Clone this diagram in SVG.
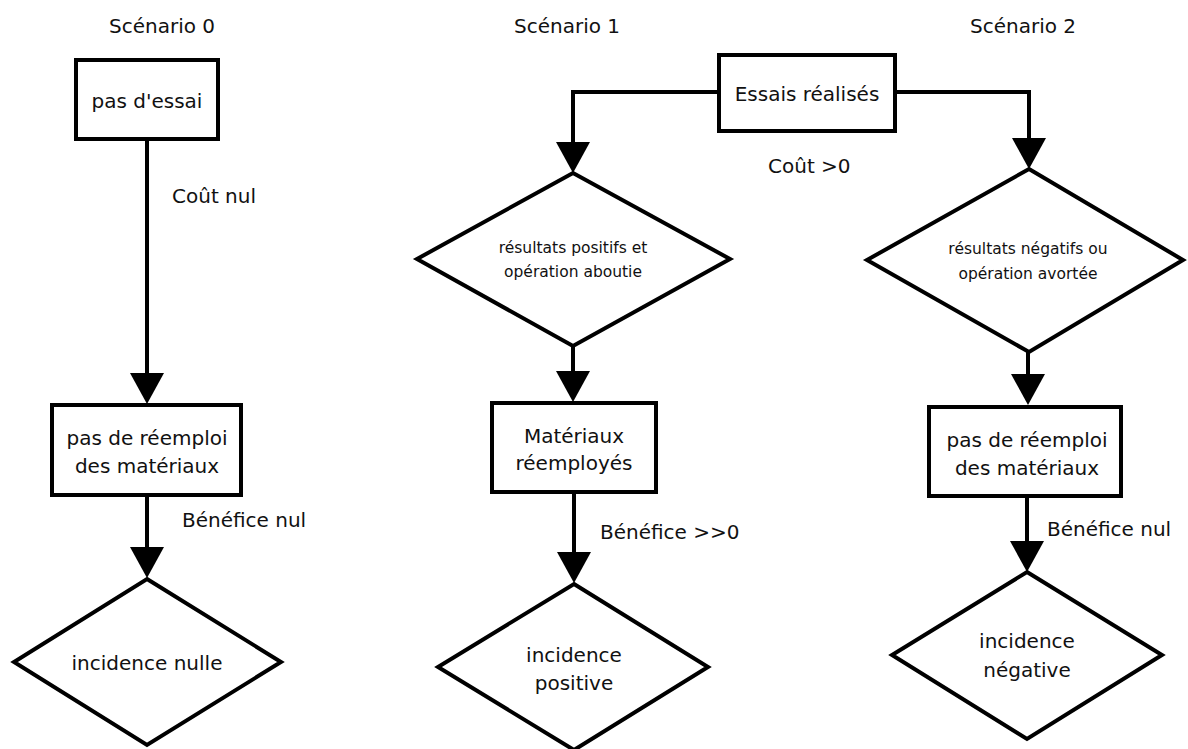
<svg xmlns="http://www.w3.org/2000/svg" width="1188" height="749" viewBox="0 0 1188 749">
<style>
.shape{fill:#fff;stroke:#000;stroke-width:4;stroke-linejoin:miter}
.conn{fill:none;stroke:#000;stroke-width:4}
text{font-family:"DejaVu Sans","Liberation Sans",sans-serif;fill:#111;font-size:20px}
.c{text-anchor:middle}
.s{font-size:15.5px}
</style>
<defs>
<marker id="arr" markerUnits="userSpaceOnUse" markerWidth="31" markerHeight="34" viewBox="0 0 31 34" refX="0" refY="17" orient="auto">
<path d="M0,0 L31,17 L0,34 z" fill="#000"/>
</marker>
</defs>
<rect width="1188" height="749" fill="#fff"/>
<g id="titles">
<text class="c" x="162" y="33">Scénario 0</text>
<text class="c" x="567" y="33">Scénario 1</text>
<text class="c" x="1023" y="33">Scénario 2</text>
</g>
<g id="connectors">
<line class="conn" x1="147" y1="139" x2="147" y2="373" marker-end="url(#arr)"/>
<line class="conn" x1="147" y1="495" x2="147" y2="547" marker-end="url(#arr)"/>
<path class="conn" d="M719,92 H573 V142" marker-end="url(#arr)"/>
<path class="conn" d="M895,92 H1029 V138" marker-end="url(#arr)"/>
<line class="conn" x1="573" y1="346" x2="573" y2="371" marker-end="url(#arr)"/>
<line class="conn" x1="574" y1="492" x2="574" y2="552" marker-end="url(#arr)"/>
<line class="conn" x1="1028" y1="352" x2="1028" y2="374" marker-end="url(#arr)"/>
<line class="conn" x1="1027" y1="496" x2="1027" y2="541" marker-end="url(#arr)"/>
</g>
<g id="labels">
<text x="172" y="203">Coût nul</text>
<text x="182" y="527">Bénéfice nul</text>
<text x="768" y="173">Coût &gt;0</text>
<text x="600" y="539">Bénéfice &gt;&gt;0</text>
<text x="1047" y="536">Bénéfice nul</text>
</g>
<g id="n0-pas-essai">
<rect class="shape" x="76" y="60" width="142" height="79"/>
<text class="c" x="147" y="108">pas d'essai</text>
</g>
<g id="n0-pas-reemploi">
<rect class="shape" x="52" y="405" width="189" height="90"/>
<text class="c" x="147" y="445">pas de réemploi</text>
<text class="c" x="147" y="473">des matériaux</text>
</g>
<g id="n0-incidence">
<polygon class="shape" points="147,579 281,662 147,745 14,662"/>
<text class="c" x="147" y="670">incidence nulle</text>
</g>
<g id="n-essais">
<rect class="shape" x="719" y="55" width="176" height="76"/>
<text class="c" x="807" y="101">Essais réalisés</text>
</g>
<g id="n1-resultats">
<polygon class="shape" points="573,173 730,259 573,346 417,259"/>
<text class="c s" x="573" y="253">résultats positifs et</text>
<text class="c s" x="573" y="277">opération aboutie</text>
</g>
<g id="n1-materiaux">
<rect class="shape" x="492" y="403" width="164" height="89"/>
<text class="c" x="574" y="443">Matériaux</text>
<text class="c" x="574" y="470">réemployés</text>
</g>
<g id="n1-incidence">
<polygon class="shape" points="574,584 708,667 574,750 438,667"/>
<text class="c" x="574" y="662">incidence</text>
<text class="c" x="574" y="690">positive</text>
</g>
<g id="n2-resultats">
<polygon class="shape" points="1029,169 1183,260 1029,352 867,260"/>
<text class="c s" x="1028" y="254">résultats négatifs ou</text>
<text class="c s" x="1028" y="279">opération avortée</text>
</g>
<g id="n2-pas-reemploi">
<rect class="shape" x="929" y="407" width="192" height="89"/>
<text class="c" x="1027" y="447">pas de réemploi</text>
<text class="c" x="1027" y="475">des matériaux</text>
</g>
<g id="n2-incidence">
<polygon class="shape" points="1027,572 1162,655 1027,739 892,655"/>
<text class="c" x="1027" y="648">incidence</text>
<text class="c" x="1027" y="677">négative</text>
</g>
</svg>
